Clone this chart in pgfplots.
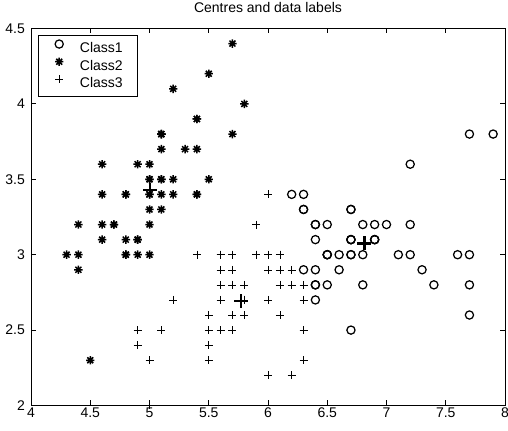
\documentclass[border=0pt]{standalone}
\usepackage{fontspec}
\setmainfont{Liberation Sans}
\usepackage{pgfplots}
\usepackage{pgfplotstable}
\pgfplotsset{compat=1.18}

\pgfdeclareplotmark{mstar}{%
  \pgfpathmoveto{\pgfqpoint{-\pgfplotmarksize}{0pt}}%
  \pgfpathlineto{\pgfqpoint{\pgfplotmarksize}{0pt}}%
  \pgfpathmoveto{\pgfqpoint{0pt}{-\pgfplotmarksize}}%
  \pgfpathlineto{\pgfqpoint{0pt}{\pgfplotmarksize}}%
  \pgfpathmoveto{\pgfqpoint{-.707\pgfplotmarksize}{-.707\pgfplotmarksize}}%
  \pgfpathlineto{\pgfqpoint{.707\pgfplotmarksize}{.707\pgfplotmarksize}}%
  \pgfpathmoveto{\pgfqpoint{-.707\pgfplotmarksize}{.707\pgfplotmarksize}}%
  \pgfpathlineto{\pgfqpoint{.707\pgfplotmarksize}{-.707\pgfplotmarksize}}%
  \pgfusepathqstroke}

\pgfplotstableread{
x y
7.0 3.2
6.4 3.2
6.9 3.1
6.5 2.8
6.3 3.3
6.6 2.9
6.7 3.1
6.4 2.9
6.6 3.0
6.8 2.8
6.7 3.0
6.7 3.1
6.3 3.3
7.1 3.0
6.3 2.9
6.5 3.0
7.6 3.0
7.3 2.9
6.7 2.5
7.2 3.6
6.5 3.2
6.4 2.7
6.8 3.0
6.4 3.2
6.5 3.0
7.7 3.8
7.7 2.6
6.9 3.2
7.7 2.8
6.7 3.3
7.2 3.2
6.4 2.8
7.2 3.0
7.4 2.8
7.9 3.8
6.4 2.8
7.7 3.0
6.3 3.4
6.4 3.1
6.9 3.1
6.7 3.1
6.9 3.1
6.8 3.2
6.7 3.3
6.7 3.0
6.5 3.0
6.2 3.4
}\classone

\pgfplotstableread{
x y
5.1 3.5
4.9 3.0
4.7 3.2
4.6 3.1
5.0 3.6
5.4 3.9
4.6 3.4
5.0 3.4
4.4 2.9
4.9 3.1
5.4 3.7
4.8 3.4
4.8 3.0
4.3 3.0
5.8 4.0
5.7 4.4
5.4 3.9
5.1 3.5
5.7 3.8
5.1 3.8
5.4 3.4
5.1 3.7
4.6 3.6
5.1 3.3
4.8 3.4
5.0 3.0
5.0 3.4
5.2 3.5
5.2 3.4
4.7 3.2
4.8 3.1
5.4 3.4
5.2 4.1
5.5 4.2
4.9 3.1
5.0 3.2
5.5 3.5
4.9 3.6
4.4 3.0
5.1 3.4
5.0 3.5
4.5 2.3
4.4 3.2
5.0 3.5
5.1 3.8
4.8 3.0
5.1 3.8
4.6 3.2
5.3 3.7
5.0 3.3
}\classtwo

\pgfplotstableread{
x y
5.5 2.3
5.7 2.8
4.9 2.4
5.2 2.7
5.0 2.0
5.9 3.0
6.0 2.2
6.1 2.9
5.6 2.9
5.6 3.0
5.8 2.7
6.2 2.2
5.6 2.5
5.9 3.2
6.1 2.8
6.3 2.5
6.1 2.8
6.0 2.9
5.7 2.6
5.5 2.4
5.5 2.4
5.8 2.7
6.0 2.7
5.4 3.0
6.0 3.4
6.3 2.3
5.6 3.0
5.5 2.5
5.5 2.6
6.1 3.0
5.8 2.6
5.0 2.3
5.6 2.7
5.7 3.0
5.7 2.9
6.2 2.9
5.1 2.5
5.7 2.8
5.8 2.7
4.9 2.5
5.7 2.5
5.8 2.8
6.0 2.2
5.6 2.8
6.3 2.7
6.2 2.8
6.1 3.0
6.3 2.8
6.1 2.6
6.0 3.0
5.8 2.7
6.3 2.5
5.9 3.0
}\classthree

\pgfplotstableread{
x y
6.8128 3.0745
5.0060 3.4280
5.7736 2.6925
}\centres

\newcommand{\lfont}{\fontsize{14bp}{16bp}\selectfont}

\begin{document}
\begin{tikzpicture}
\begin{axis}[
  scale only axis,
  width=474bp, height=377bp,
  xmin=4, xmax=8, ymin=2, ymax=4.5,
  xtick={4,4.5,5,5.5,6,6.5,7,7.5,8},
  ytick={2,2.5,3,3.5,4,4.5},
  tick align=inside,
  major tick length=5bp,
  every tick/.style={black, line width=0.8bp},
  axis line style={black, line width=1bp},
  /pgf/number format/assume math mode=true,
  tick label style={font=\lfont, black},
  xticklabel style={anchor=north, inner sep=0pt, yshift=-2bp},
  yticklabel style={anchor=east, inner sep=0pt, xshift=-6bp},
  title={Centres and data labels},
  title style={font=\lfont, at={(0.5,1)}, anchor=base, yshift=10bp, inner sep=0pt},
  legend style={at={(0,1)}, anchor=north west, xshift=7bp, yshift=-7bp,
    draw=black, line width=0.9bp, font=\lfont, inner xsep=2bp, inner ysep=4bp,
    row sep=0bp, nodes={inner sep=2bp, text height=10bp, text depth=3bp}},
  legend cell align=left,
  legend image code/.code={\path (0bp,0bp) (36bp,0bp);
    \draw[#1, only marks] plot coordinates {(18bp,5bp)};},
]
\addplot[only marks, mark=o, mark size=4.1bp, line width=1.25bp, black] table {\classone};
\addlegendentry{\makebox[53bp][l]{Class1}}
\addplot[only marks, mark=mstar, mark size=4.2bp, line width=1.5bp, black] table {\classtwo};
\addlegendentry{\makebox[53bp][l]{Class2}}
\addplot[only marks, mark=+, mark size=4bp, line width=0.55bp, black] table {\classthree};
\addlegendentry{\makebox[53bp][l]{Class3}}
\addplot[only marks, mark=+, mark size=7bp, line width=2.4bp, black, forget plot] table {\centres};
\end{axis}
\pgfresetboundingbox
\path ([xshift=-31bp,yshift=-25.5bp]current axis.south west) rectangle ([xshift=3bp,yshift=28.5bp]current axis.north east);
\end{tikzpicture}
\end{document}
